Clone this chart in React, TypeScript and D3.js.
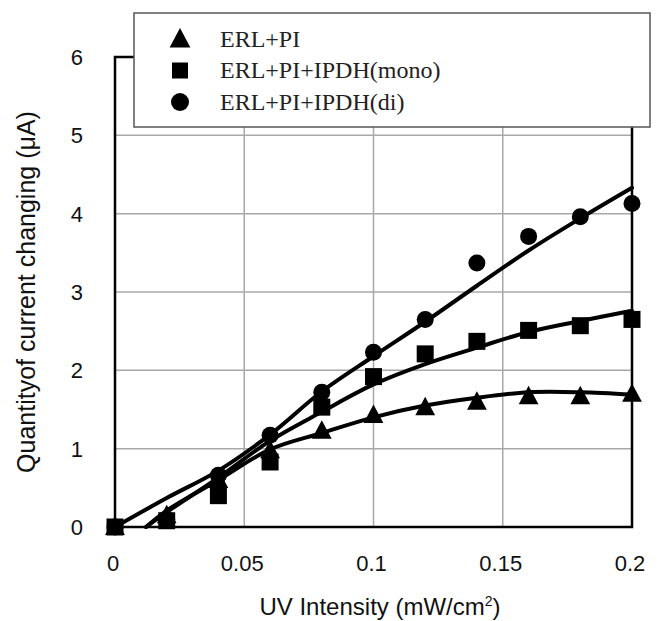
import React from "react";
import * as d3 from "d3";

const xTicks = [0, 0.05, 0.1, 0.15, 0.2];
const xTickLabels = ["0", "0.05", "0.1", "0.15", "0.2"];
const yTicks = [0, 1, 2, 3, 4, 5, 6];

const xPoints = [0, 0.02, 0.04, 0.06, 0.08, 0.1, 0.12, 0.14, 0.16, 0.18, 0.2];
const erlPi = [0, 0.15, 0.6, 0.98, 1.23, 1.43, 1.53, 1.6, 1.67, 1.67, 1.7];
const erlMono = [0, 0.08, 0.4, 0.83, 1.53, 1.92, 2.21, 2.37, 2.51, 2.57, 2.65];
const erlDi = [0, 0.1, 0.66, 1.17, 1.72, 2.23, 2.65, 3.37, 3.71, 3.96, 4.13];

// trend curves
const trendDiX = [0, 0.02, 0.04, 0.06, 0.08, 0.1, 0.12, 0.14, 0.16, 0.18, 0.2];
const trendDiY = [0, 0.37, 0.72, 1.18, 1.73, 2.18, 2.62, 3.08, 3.53, 3.94, 4.33];
const trendMonoX = [0.012, 0.02, 0.04, 0.06, 0.08, 0.1, 0.12, 0.14, 0.16, 0.18, 0.2];
const trendMonoY = [0, 0.19, 0.63, 1.1, 1.47, 1.82, 2.08, 2.29, 2.49, 2.63, 2.76];
const trendPiX = [0.012, 0.02, 0.04, 0.06, 0.08, 0.1, 0.12, 0.14, 0.16, 0.18, 0.2];
const trendPiY = [0, 0.21, 0.6, 0.99, 1.2, 1.4, 1.55, 1.65, 1.72, 1.72, 1.69];

const legendLabels = ["ERL+PI", "ERL+PI+IPDH(mono)", "ERL+PI+IPDH(di)"];

export default function App() {
  const left = 115, right = 632, top = 57, bottom = 527;
  const x = d3.scaleLinear().domain([0, 0.2]).range([left, right]);
  const y = d3.scaleLinear().domain([0, 6]).range([bottom, top]);
  const line = d3
    .line<[number, number]>()
    .x((d) => x(d[0]))
    .y((d) => y(d[1]))
    .curve(d3.curveCatmullRom.alpha(0.5));

  const zip = (xs: number[], ys: number[]) => xs.map((v, i) => [v, ys[i]] as [number, number]);

  const tri = (cx: number, cy: number, s: number) =>
    `M${cx},${cy - s * 0.55}L${cx + s * 0.52},${cy + s * 0.42}L${cx - s * 0.52},${cy + s * 0.42}Z`;

  const sans = "Liberation Sans, Arial, sans-serif";
  const serif = "Liberation Serif, Times New Roman, serif";

  return (
    <svg width={660} height={621} style={{ position: "absolute", left: 0, top: 0, background: "#fff" }}>
      {/* grid */}
      {xTicks.slice(1, -1).map((t) => (
        <line key={"gx" + t} x1={x(t)} x2={x(t)} y1={top} y2={bottom} stroke="#a8a8a8" strokeWidth={1.5} />
      ))}
      {yTicks.slice(1, -1).map((t) => (
        <line key={"gy" + t} x1={left} x2={right} y1={y(t)} y2={y(t)} stroke="#a8a8a8" strokeWidth={1.5} />
      ))}
      {/* frame */}
      <rect x={left} y={top} width={right - left} height={bottom - top} fill="none" stroke="#000" strokeWidth={2.5} />

      {/* tick labels */}
      {yTicks.map((t) => (
        <text key={"yl" + t} x={83} y={y(t) + 8} textAnchor="end" fontFamily={sans} fontSize={22} fill="#111">
          {t}
        </text>
      ))}
      {xTicks.map((t, i) => (
        <text key={"xl" + t} x={x(t) - 2} y={571} textAnchor="middle" fontFamily={sans} fontSize={22} fill="#111">
          {xTickLabels[i]}
        </text>
      ))}
      <text x={380} y={615} textAnchor="middle" fontFamily={sans} fontSize={24} fill="#111">
        UV Intensity (mW/cm
        <tspan fontSize={14} dy={-9}>2</tspan>
        <tspan dy={9}>)</tspan>
      </text>
      <text
        transform={`translate(35,292) rotate(-90)`}
        textAnchor="middle"
        fontFamily={sans}
        fontSize={25}
        fill="#111"
      >
        Quantityof current changing (μA)
      </text>

      {/* trend lines */}
      {[zip(trendDiX, trendDiY), zip(trendMonoX, trendMonoY), zip(trendPiX, trendPiY)].map((d, i) => (
        <path key={"tl" + i} d={line(d) || ""} fill="none" stroke="#000" strokeWidth={4} strokeLinejoin="round" strokeLinecap="round" />
      ))}

      {/* markers */}
      {xPoints.map((xv, i) => (
        <circle key={"c" + i} cx={x(xv)} cy={y(erlDi[i])} r={8.5} fill="#000" />
      ))}
      {xPoints.map((xv, i) => (
        <rect key={"s" + i} x={x(xv) - 8.5} y={y(erlMono[i]) - 8.5} width={17} height={17} fill="#000" />
      ))}
      {xPoints.map((xv, i) => (
        <path key={"t" + i} d={tri(x(xv), y(erlPi[i]), 19)} fill="#000" />
      ))}

      {/* legend */}
      <rect x={134} y={13} width={516} height={114} fill="#fff" stroke="#555" strokeWidth={1.5} />
      {legendLabels.map((lab, i) => {
        const cy = 39 + i * 31.5;
        const cx = 180;
        return (
          <g key={"lg" + i}>
            {i === 0 && <path d={tri(cx, cy, 20)} fill="#000" />}
            {i === 1 && <rect x={cx - 8} y={cy - 8} width={16} height={16} fill="#000" />}
            {i === 2 && <circle cx={cx} cy={cy} r={9} fill="#000" />}
            <text x={220} y={cy + 7.5} fontFamily={serif} fontSize={24} fill="#222">
              {lab}
            </text>
          </g>
        );
      })}
    </svg>
  );
}
